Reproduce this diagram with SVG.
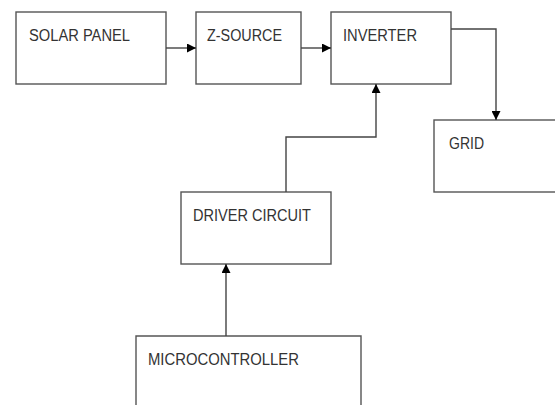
<svg xmlns="http://www.w3.org/2000/svg" width="555" height="405" viewBox="0 0 555 405">
<defs>
<style>
.box{fill:#fff;stroke:#555;stroke-width:1.4}
.lbl{font-family:"Liberation Sans","Open Sans",Arial,sans-serif;font-size:16px;fill:#333}
.wire{fill:none;stroke:#444;stroke-width:1.4}
</style>
<marker id="ah" viewBox="0 0 10 10" refX="10" refY="5" markerWidth="9" markerHeight="9" markerUnits="userSpaceOnUse" orient="auto">
<path d="M0,0 L10,5 L0,10 Z" fill="#000"/>
</marker>
</defs>
<rect width="555" height="405" fill="#fff"/>
<g id="solar-panel"><rect class="box" x="16" y="12" width="150" height="72"/><text class="lbl" x="29" y="41" textLength="101" lengthAdjust="spacingAndGlyphs">SOLAR PANEL</text></g>
<g id="z-source"><rect class="box" x="196" y="12" width="105" height="72"/><text class="lbl" x="207" y="41" textLength="75" lengthAdjust="spacingAndGlyphs">Z-SOURCE</text></g>
<g id="inverter"><rect class="box" x="331" y="12" width="120" height="72"/><text class="lbl" x="343" y="41" textLength="74" lengthAdjust="spacingAndGlyphs">INVERTER</text></g>
<g id="grid"><rect class="box" x="434" y="120" width="130" height="72"/><text class="lbl" x="449" y="149" textLength="35" lengthAdjust="spacingAndGlyphs">GRID</text></g>
<g id="driver-circuit"><rect class="box" x="181" y="192" width="150" height="72"/><text class="lbl" x="193" y="221" textLength="118" lengthAdjust="spacingAndGlyphs">DRIVER CIRCUIT</text></g>
<g id="microcontroller"><path class="box" d="M136,410 V336 H361 V410"/><text class="lbl" x="148" y="365" textLength="151" lengthAdjust="spacingAndGlyphs">MICROCONTROLLER</text></g>
<g id="connectors">
<path class="wire" d="M166,48 H196" marker-end="url(#ah)"/>
<path class="wire" d="M301,48 H331" marker-end="url(#ah)"/>
<path class="wire" d="M451,29 H496 V120" marker-end="url(#ah)"/>
<path class="wire" d="M286,192 V137 H376 V84" marker-end="url(#ah)"/>
<path class="wire" d="M226,336 V264" marker-end="url(#ah)"/>
</g>
</svg>
